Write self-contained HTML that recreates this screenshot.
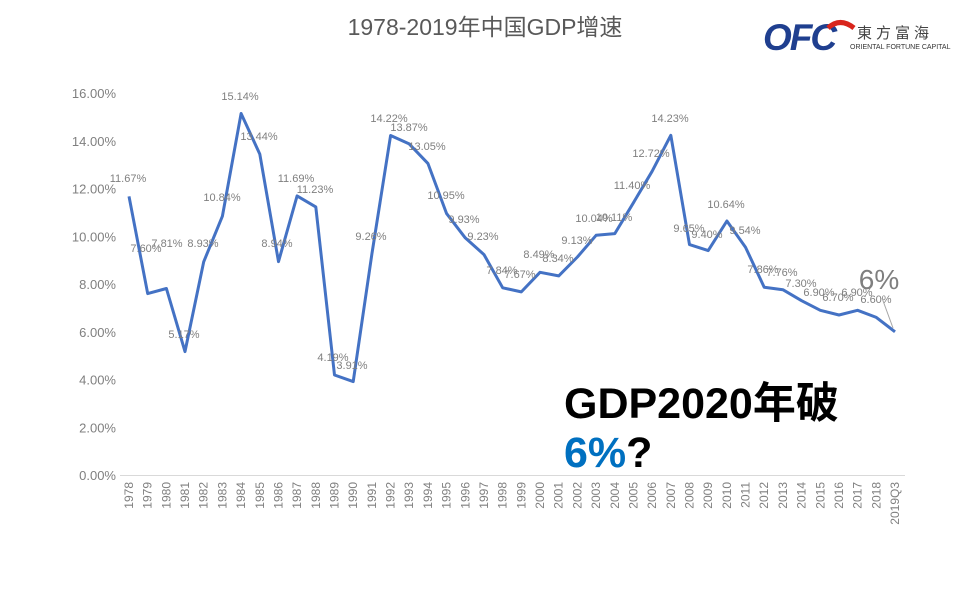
<!DOCTYPE html>
<html><head><meta charset="utf-8"><style>
body{margin:0;background:#fff;}
svg text{font-family:"Liberation Sans","Noto Sans CJK SC",sans-serif;}
</style></head><body>
<svg width="960" height="600" xmlns="http://www.w3.org/2000/svg" id="s">
<text x="485" y="35" text-anchor="middle" font-size="23" fill="#595959">1978-2019年中国GDP增速</text>
<!-- logo -->
<text x="763" y="50" font-size="37" font-weight="bold" font-style="italic" fill="#1f3f8f" letter-spacing="-2">OFC</text>
<path d="M828 28 Q840 17 854 28" stroke="#d9251c" stroke-width="5" fill="none"/>
<text x="857" y="38" font-size="15" fill="#444" font-family="Noto Serif CJK SC,serif" letter-spacing="4">東方富海</text>
<text x="850" y="49" font-size="7" fill="#333">ORIENTAL FORTUNE CAPITAL</text>
<g id="yl" font-size="13" fill="#7f7f7f" text-anchor="end"></g>
<line x1="120" y1="475.5" x2="905" y2="475.5" stroke="#d9d9d9"/>
<polyline id="pl" fill="none" stroke="#4472C4" stroke-width="3" stroke-linejoin="round"/>
<g id="dl" font-size="11" fill="#7f7f7f" text-anchor="middle"></g>
<g id="xl" font-size="12" fill="#7f7f7f"></g>
<line x1="882" y1="298" x2="893" y2="328" stroke="#a6a6a6"/>
<text x="879" y="289" font-size="28" fill="#7f7f7f" text-anchor="middle">6%</text>
<text x="564" y="418" font-size="43" font-weight="bold" fill="#000">GDP2020年破</text>
<text x="564" y="467" font-size="43" font-weight="bold"><tspan fill="#0070C0">6%</tspan><tspan fill="#000">?</tspan></text>
</svg>
<script>
var v=[11.67,7.6,7.81,5.17,8.93,10.84,15.14,13.44,8.94,11.69,11.23,4.19,3.91,9.26,14.22,13.87,13.05,10.95,9.93,9.23,7.84,7.67,8.49,8.34,9.13,10.04,10.11,11.4,12.72,14.23,9.65,9.4,10.64,9.54,7.86,7.76,7.3,6.9,6.7,6.9,6.6,6.0];
var L=[[128,178],[146,248],[167,243],[184,334],[203,243],[222,197],[240,96],[259,136],[277,243],[296,178],[315,189],[333,357],[352,365],[371,236],[389,118],[409,127],[427,146],[446,195],[464,219],[483,236],[502,270],[520,274],[539,254],[558,258],[577,240],[594,218],[614,217],[632,185],[651,153],[670,118],[689,228],[707,234],[726,204],[745,230],[763,269],[782,272],[801,283],[819,292],[838,297],[857,292],[876,299]];
var ns="http://www.w3.org/2000/svg";
function X(i){return 129+i*(895-129)/41}
function Y(p){return 475-p*382/16}
var pts=v.map(function(p,i){return X(i).toFixed(1)+","+Y(p).toFixed(1)}).join(" ");
document.getElementById("pl").setAttribute("points",pts);
function t(g,x,y,s,tr){var e=document.createElementNS(ns,"text");e.setAttribute("x",x);e.setAttribute("y",y);if(tr)e.setAttribute("transform",tr);e.textContent=s;document.getElementById(g).appendChild(e);}
for(var k=0;k<=8;k++){t("yl",116,Y(k*2)+5,(k*2).toFixed(2)+"%");}
L.forEach(function(a,i){t("dl",a[0],a[1]+4,v[i].toFixed(2)+"%");});
for(var i=0;i<42;i++){var lab=i<41?String(1978+i):"2019Q3";var x=X(i)+4,y=482;t("xl",0,0,lab,"translate("+x+","+y+") rotate(-90)");}
document.querySelectorAll("#xl text").forEach(function(e){e.setAttribute("text-anchor","end");});
</script>
</body></html>
